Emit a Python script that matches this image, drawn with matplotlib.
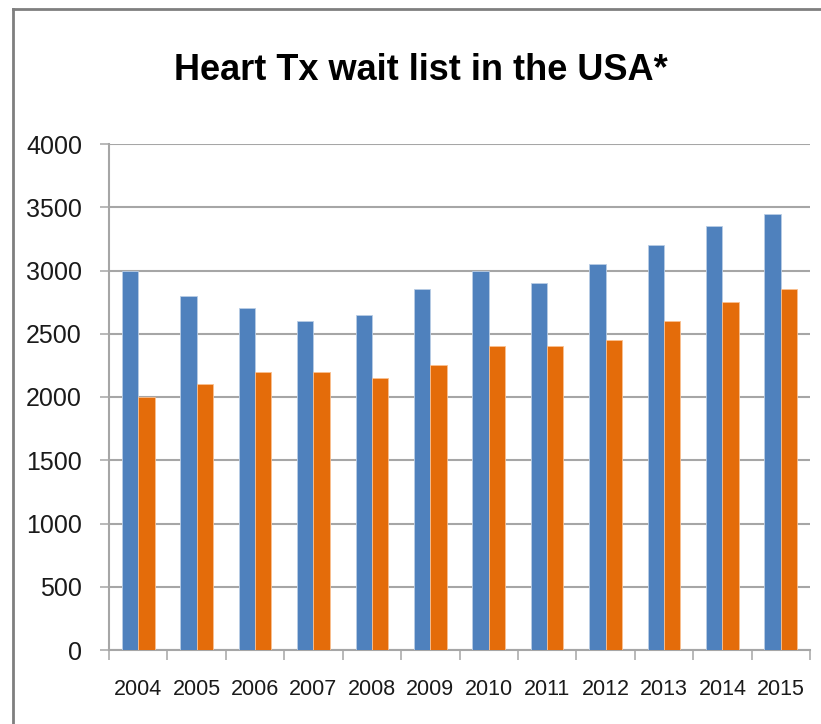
import matplotlib
matplotlib.use('Agg')
import matplotlib.pyplot as plt
from matplotlib.lines import Line2D
import numpy as np

years = ['2004', '2005', '2006', '2007', '2008', '2009',
         '2010', '2011', '2012', '2013', '2014', '2015']
series_a = [3000, 2800, 2700, 2600, 2650, 2850, 3000, 2900, 3050, 3200, 3350, 3450]
series_b = [2000, 2100, 2200, 2200, 2150, 2250, 2400, 2400, 2450, 2600, 2750, 2850]

plt.rcParams['font.family'] = ['Liberation Sans', 'DejaVu Sans']

fig = plt.figure(figsize=(8.21, 7.24), dpi=100)
ax = fig.add_axes([109 / 821, 1 - 650 / 724, 701 / 821, 506 / 724])

x = np.arange(len(years))
w = 0.28
ax.bar(x - w / 2, series_a, w, color='#4F81BD', edgecolor='#B9CDE5', linewidth=0.6, zorder=3)
ax.bar(x + w / 2, series_b, w, color='#E46C0A', edgecolor='#FAC090', linewidth=0.6, zorder=3)

ax.set_xlim(-0.5, len(years) - 0.5)
ax.set_ylim(0, 4000)
ax.set_yticks(np.arange(0, 4001, 500))
ax.yaxis.grid(True, color='#A6A6A6', linewidth=1.5, zorder=0)
ax.set_axisbelow(True)

# year labels centred, ticks between categories
ax.set_xticks(x)
ax.set_xticklabels(years, fontsize=15.5, color='#1a1a1a')
ax.set_xticks(np.arange(-0.5, len(years)), minor=True)
ax.tick_params(axis='x', which='major', length=0, pad=21)
ax.tick_params(axis='x', which='minor', length=7.2, width=1.1, color='#A6A6A6')
ax.tick_params(axis='y', length=6.5, width=1.1, color='#A6A6A6', labelsize=18,
               labelcolor='#1a1a1a', pad=13)

for s in ['top', 'right']:
    ax.spines[s].set_visible(False)
for s in ['left', 'bottom']:
    ax.spines[s].set_color('#A6A6A6')
    ax.spines[s].set_linewidth(1.5)

fig.text(0.513, 1 - 70 / 724, 'Heart Tx wait list in the USA*',
         ha='center', va='center', fontsize=26, fontweight='bold')

# outer frame (top and left edges visible)
fig.add_artist(Line2D([13 / 821, 13 / 821], [0, 1 - 9 / 724], transform=fig.transFigure,
                      color='#7F7F7F', linewidth=2))
fig.add_artist(Line2D([13 / 821, 1], [1 - 9 / 724, 1 - 9 / 724], transform=fig.transFigure,
                      color='#7F7F7F', linewidth=2))

plt.savefig('out.png', dpi=100)
plt.close()
